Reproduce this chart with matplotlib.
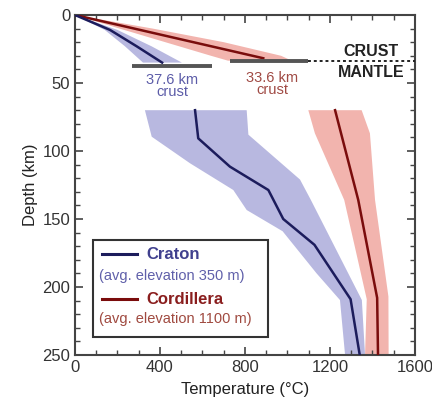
import numpy as np
import matplotlib
matplotlib.use('Agg')
import matplotlib.pyplot as plt
from matplotlib.patches import Rectangle
from matplotlib.ticker import MultipleLocator

plt.rcParams['font.family'] = ['Liberation Sans', 'DejaVu Sans']

# --- craton geotherm (temperature in C, depth in km) ---
craton_crust_T = [0, 165, 290, 410]
craton_crust_d = [0, 11, 23, 35]
craton_crust_cool_T = [0, 140, 235, 320]
craton_crust_hot_T = [0, 200, 360, 503]
craton_crust_band_d = [0, 11, 23, 35]

craton_mantle_T = [565, 580, 729, 910, 980, 1127, 1297, 1340]
craton_mantle_d = [70, 90.7, 111.5, 128.7, 150, 169, 209, 250]
craton_cool_T = [329, 361, 541, 745, 808, 977, 1137, 1247, 1271]
craton_cool_d = [70, 89.5, 109, 128.7, 143.4, 159, 190, 209.6, 250]
craton_hot_T = [808, 816, 1059, 1110, 1350, 1365]
craton_hot_d = [70, 88, 121, 136, 209.6, 250]

# --- cordillera geotherm ---
cord_crust_T = [0, 279, 557, 836, 886]
cord_crust_d = [0, 10, 20, 30, 31.8]
cord_crust_cool_T = [0, 210, 425, 640, 720]
cord_crust_hot_T = [0, 366, 700, 970, 1020]
cord_crust_band_d = [0, 10, 20, 30, 33.6]

cord_mantle_T = [1224, 1333, 1422, 1426]
cord_mantle_d = [70, 136, 208, 250]
cord_cool_T = [1098, 1129, 1267, 1373, 1365]
cord_cool_d = [70, 87, 136, 209, 250]
cord_hot_T = [1349, 1388, 1412, 1475, 1476]
cord_hot_d = [70, 87, 136, 207, 250]

craton_moho = 37.6
cord_moho = 33.6

navy = '#1c1c5c'
lav = '#b8b8e0'
dred = '#7a0c0c'
pink = '#f2b4ae'


def band(ax, cool_T, cool_d, hot_T, hot_d, color):
    xs = list(cool_T) + list(hot_T)[::-1]
    ys = list(cool_d) + list(hot_d)[::-1]
    ax.fill(xs, ys, color=color, lw=0, zorder=1)


fig = plt.figure(figsize=(4.32, 4.04), dpi=100)
ax = fig.add_axes([0.1736, 0.1213, 0.787, 0.8416])

# bands
band(ax, craton_crust_cool_T, craton_crust_band_d, craton_crust_hot_T, craton_crust_band_d, lav)
band(ax, craton_cool_T, craton_cool_d, craton_hot_T, craton_hot_d, lav)
band(ax, cord_crust_cool_T, cord_crust_band_d, cord_crust_hot_T, cord_crust_band_d, pink)
band(ax, cord_cool_T, cord_cool_d, cord_hot_T, cord_hot_d, pink)

# mean geotherms
ax.plot(cord_crust_T, cord_crust_d, color=dred, lw=1.8, zorder=3)
ax.plot(cord_mantle_T, cord_mantle_d, color=dred, lw=1.8, zorder=3)
ax.plot(craton_crust_T, craton_crust_d, color=navy, lw=1.8, zorder=3)
ax.plot(craton_mantle_T, craton_mantle_d, color=navy, lw=1.8, zorder=3)

# moho bars
ax.plot([267, 643], [craton_moho, craton_moho], color='#555555', lw=2.8, solid_capstyle='butt', zorder=4)
ax.plot([729, 1096], [cord_moho, cord_moho], color='#555555', lw=2.8, solid_capstyle='butt', zorder=4)
ax.plot([1096, 1600], [cord_moho, cord_moho], color='#222222', lw=1.4, ls=(0, (1.5, 1.5)), zorder=4)

ax.text(457, 52, '37.6 km\ncrust', color='#5c5ca8', fontsize=10.5, ha='center', va='center',
        linespacing=0.82)
ax.text(929, 50.5, '33.6 km\ncrust', color='#a04a44', fontsize=10.5, ha='center', va='center',
        linespacing=0.82)
ax.text(1391, 27, 'CRUST', color='#222222', fontsize=11.5, fontweight='bold', ha='center', va='center')
ax.text(1393, 42.4, 'MANTLE', color='#222222', fontsize=11.5, fontweight='bold', ha='center', va='center')

# legend box drawn by hand
ax.add_patch(Rectangle((0.052, 0.054), 0.515, 0.284, transform=ax.transAxes,
                       fill=False, ec='#333333', lw=1.5, zorder=5))
ax.plot([0.0785, 0.1815], [0.296, 0.296], color=navy, lw=2.2, transform=ax.transAxes, zorder=5)
ax.text(0.211, 0.296, 'Craton', color='#40408e', fontsize=12, fontweight='bold',
        va='center', transform=ax.transAxes)
ax.text(0.0715, 0.232, '(avg. elevation 350 m)', color='#6060aa', fontsize=10.5,
        va='center', transform=ax.transAxes)
ax.plot([0.0785, 0.1815], [0.164, 0.164], color=dred, lw=2.2, transform=ax.transAxes, zorder=5)
ax.text(0.211, 0.164, 'Cordillera', color='#8a1e1e', fontsize=12, fontweight='bold',
        va='center', transform=ax.transAxes)
ax.text(0.0715, 0.105, '(avg. elevation 1100 m)', color='#a04a40', fontsize=10.5,
        va='center', transform=ax.transAxes)

ax.set_xlim(0, 1600)
ax.set_ylim(250, 0)
ax.xaxis.set_major_locator(MultipleLocator(400))
ax.xaxis.set_minor_locator(MultipleLocator(100))
ax.yaxis.set_major_locator(MultipleLocator(50))
ax.yaxis.set_minor_locator(MultipleLocator(10))
ax.tick_params(which='both', direction='in', top=True, right=True, color='#444444',
               labelsize=12, labelcolor='#333333')
ax.tick_params(which='major', length=6, width=1.2)
ax.tick_params(which='minor', length=3.5, width=1.0)
for s in ax.spines.values():
    s.set_color('#444444')
    s.set_linewidth(1.5)

ax.set_xlabel('Temperature (°C)', fontsize=12, color='#222222', labelpad=5)
ax.set_ylabel('Depth (km)', fontsize=12, color='#222222', labelpad=3)

fig.savefig('out.png', dpi=100)
